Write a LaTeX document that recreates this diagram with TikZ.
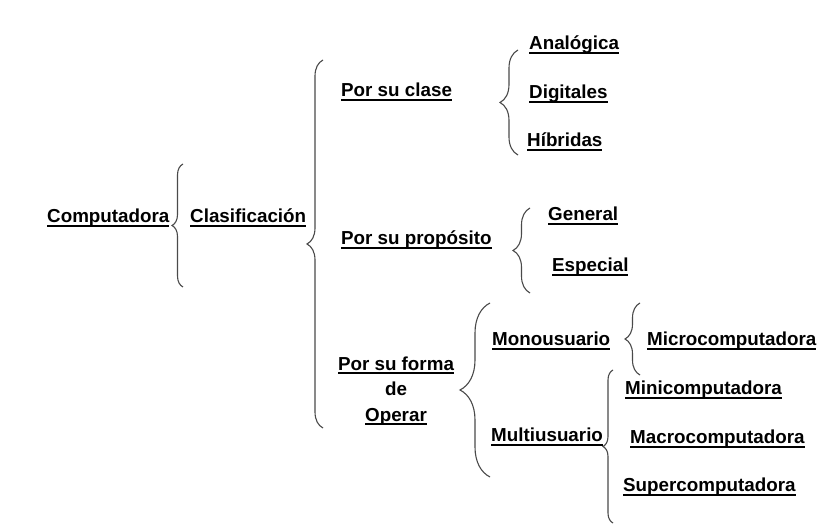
\documentclass[tikz,border=0pt]{standalone}
\usepackage{fontspec}
\setmainfont{Liberation Sans}
\usetikzlibrary{decorations.pathreplacing}
\definecolor{bracegray}{HTML}{4A4A4A}
\newcommand{\ulin}[1]{\setbox0=\hbox{#1}\rlap{\rule[-3.6pt]{\wd0}{1.8pt}}\box0}

\begin{document}
\begin{tikzpicture}[
  x=1pt, y=1pt,
  every node/.style={text=black, font=\fontsize{18.8}{25.5}\selectfont\bfseries, inner sep=0pt},
  lbl/.style={anchor=base west},
  brc/.style={draw=bracegray, line width=1.1pt, decorate, decoration={brace, amplitude=#1}},
]

% Background
\fill[white] (0,0) rectangle (839,525);
\useasboundingbox (0,0) rectangle (839,525);

% Root
\node[lbl] (comp) at (47,302) {\ulin{Computadora}};
\draw[brc=11pt] (183,238) -- (183,361);
\node[lbl] (clas) at (190,302) {\ulin{Clasificación}};
\draw[brc=16pt] (323,97) -- (323,465);

% Por su clase
\node[lbl] (clase) at (341,428) {\ulin{Por su clase}};
\draw[brc=18pt] (518,370) -- (518,475);
\node[lbl] (analog) at (529,475) {\ulin{Analógica}};
\node[lbl] (digit) at (529,426) {\ulin{Digitales}};
\node[lbl] (hibri) at (527,378) {\ulin{Híbridas}};

% Por su propósito
\node[lbl] (propo) at (341,280) {\ulin{Por su propósito}};
\draw[brc=17pt] (530,232) -- (530,317);
\node[lbl] (gener) at (548,304) {\ulin{General}};
\node[lbl] (espec) at (552,253) {\ulin{Especial}};

% Por su forma de Operar
\node[align=center] (forma) at (396,134) {\ulin{Por su forma}\\de\\\ulin{Operar}};
\draw[brc=30pt] (490,48) -- (490,222);
\node[lbl] (mono) at (492,179) {\ulin{Monousuario}};
\draw[brc=15pt] (640,150) -- (640,222);
\node[lbl] (micro) at (647,179) {\ulin{Microcomputadora}};
\node[lbl] (multi) at (491,83) {\ulin{Multiusuario}};
\draw[brc=10pt] (613,2) -- (613,155);
\node[lbl] (mini) at (625,130) {\ulin{Minicomputadora}};
\node[lbl] (macro) at (630,81) {\ulin{Macrocomputadora}};
\node[lbl] (super) at (623,33) {\ulin{Supercomputadora}};

\end{tikzpicture}
\end{document}
